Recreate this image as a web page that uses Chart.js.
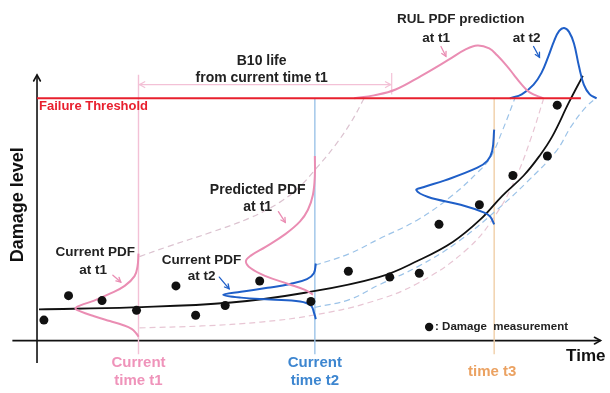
<!DOCTYPE html>
<html>
<head>
<meta charset="utf-8">
<script src="https://cdn.jsdelivr.net/npm/chart.js@4/dist/chart.umd.min.js"></script>
<style>
  html, body { margin: 0; padding: 0; background: #fff; }
  #wrap { width: 610px; height: 393px; position: relative; }
</style>
</head>
<body>
<div id="wrap"><canvas id="c"></canvas></div>
<script>
// All values are [time, damage] pairs, origin where the two axes cross.

// Damage measurements
const measurements = [
  [7,21],[32,46],[66,41],[101,31],[141,56],[161,26],[191,36],[226,61],[278,40],
  [316,71],[358,65],[388,69],[408,119],[449,139],[483,169],[518,189],[528,241]
];

// Fitted degradation trend
const trend = [
  [2,32],[97,34],[197,39],[272,49],[347,65],[387,82],[422,101],[450,124],
  [472,148],[494,169],[510,189],[523,209],[540,244],[554,271]
];

const failureThreshold = 248;
const timeT1 = 103, timeT2 = 282, timeT3 = 464;

// Prediction bounds made at t1
const boundT1Upper = [[104,86],[132,96],[177,111],[217,126],[247,142],[267,158],[284,177],[302,199],[319,224],[332,248]];
const boundT1Lower = [[104,13],[167,15],[227,19],[280,26],[337,39],[387,59],[437,94],[467,131],[487,169],[502,209],[514,247]];

// Prediction bounds made at t2
const boundT2Upper = [[282,77],[317,89],[347,104],[387,124],[422,149],[447,172],[460,187],[472,214],[485,248]];
const boundT2Lower = [[282,34],[317,42],[347,57],[387,76],[427,101],[467,134],[497,162],[527,194],[542,219],[557,239],[567,248]];

// Damage PDFs (drawn sideways against a time line)
const currentPdfT1 = [[103,89],[102,76],[99,66],[89,56],[74,48],[58,41],[44,36],[39,33],[44,30],[58,25],[74,20],[87,16],[96,12],[101,7],[103,4]];
const predictedPdfT1 = [[282,189],[282,169],[280,149],[275,134],[267,122],[252,109],[232,96],[217,87],[212,81],[217,74],[232,66],[255,58],[272,52],[280,47]];
const currentPdfT2 = [[283,79],[281,69],[274,63],[257,58],[234,54],[207,50],[189,47],[207,44],[237,42],[267,40],[278,36],[281,29],[283,22]];
const predictedPdfT2 = [[464,216],[462,194],[457,184],[447,177],[414,164],[392,157],[385,154],[397,147],[430,139],[454,131],[460,127],[464,119]];

// Remaining-useful-life PDFs on the failure threshold
const rulPdfT1 = [[322,248],[342,251],[364,257],[390,271],[417,287],[435,298],[447,302],[459,299],[467,292],[477,281],[484,272],[492,262],[500,254],[514,248]];
const rulPdfT2 = [[480,248],[492,252],[504,262],[512,274],[519,291],[525,307],[530,317],[535,320],[540,316],[545,304],[550,281],[555,262],[561,252],[568,248]];

const pts = a => a.map(([x, y]) => ({x, y}));
const seg = (a, b) => [{x: a[0], y: a[1]}, {x: b[0], y: b[1]}];

const PINK = '#ea8db3', BLUE = '#1f5fc8', RED = '#e8202e';
const PINK_LIGHT = '#f3c1d6', BLUE_LIGHT = '#9cc3e8', TAN = '#f0cfa8';

function line(data, color, width, order, dash) {
  return {
    data, showLine: true, borderColor: color, borderWidth: width,
    borderDash: dash || [], pointRadius: 0, tension: 0.4, order, fill: false
  };
}

const datasets = [
  // axes
  line(seg([0,-23],[0,272]), '#111', 1.6, 9),
  line(seg([-25,0],[572,0]), '#111', 1.6, 9),
  // time markers
  line(seg([timeT1,-14],[timeT1,272]), PINK_LIGHT, 1.4, 8),
  line(seg([timeT2,-14],[timeT2,failureThreshold]), BLUE_LIGHT, 1.4, 8),
  line(seg([timeT3,-14],[timeT3,failureThreshold]), TAN, 1.4, 8),
  // B10 life span
  line(seg([timeT1,262],[360,262]), PINK_LIGHT, 1.2, 6),
  line(seg([360,252],[360,274]), PINK_LIGHT, 1.2, 6),
  // bounds
  line(pts(boundT1Upper), '#dcc3d0', 1.2, 7, [6,4]),
  line(pts(boundT1Lower), '#e8c6d4', 1.2, 7, [6,4]),
  line(pts(boundT2Upper), BLUE_LIGHT, 1.2, 7, [6,4]),
  line(pts(boundT2Lower), BLUE_LIGHT, 1.2, 7, [6,4]),
  // trend
  line(pts(trend), '#111', 1.8, 5),
  // PDFs
  line(pts(currentPdfT1), PINK, 2, 4),
  line(pts(predictedPdfT1), PINK, 2, 4),
  line(pts(rulPdfT1), PINK, 2, 4),
  line(pts(currentPdfT2), BLUE, 2, 4),
  line(pts(predictedPdfT2), BLUE, 2, 4),
  line(pts(rulPdfT2), BLUE, 2, 4),
  // failure threshold
  line(seg([0,failureThreshold],[552,failureThreshold]), RED, 2, 3),
  // measurements
  { data: pts(measurements), showLine: false, pointRadius: 4.5, pointBackgroundColor: '#111',
    pointBorderColor: '#111', pointBorderWidth: 0, order: 1 }
];

const FONT = '"Liberation Sans", Arial, sans-serif';
const labels = [
  {text: 'Failure Threshold', at: [2,240], size: 13, color: RED, align: 'left'},
  {text: 'B10 life', at: [228,286], size: 14, color: '#222'},
  {text: 'from current time t1', at: [228,269], size: 14, color: '#222'},
  {text: 'RUL PDF prediction', at: [430,329], size: 13.5, color: '#222'},
  {text: 'at t1', at: [405,309], size: 13.5, color: '#222'},
  {text: 'at t2', at: [497,309], size: 13.5, color: '#222'},
  {text: 'Predicted PDF', at: [224,154], size: 14, color: '#222'},
  {text: 'at t1', at: [224,137], size: 14, color: '#222'},
  {text: 'Current PDF', at: [59,90], size: 13.5, color: '#222'},
  {text: 'at t1', at: [57,72], size: 13.5, color: '#222'},
  {text: 'Current PDF', at: [167,82], size: 13.5, color: '#222'},
  {text: 'at t2', at: [167,66], size: 13.5, color: '#222'},
  {text: ': Damage  measurement', at: [404,14], size: 11.5, color: '#222', align: 'left'},
  {text: 'Time', at: [537,-16], size: 17, color: '#111', align: 'left'},
  {text: 'Current', at: [timeT1,-23], size: 15, color: '#ef93ba'},
  {text: 'time t1', at: [timeT1,-41], size: 15, color: '#ef93ba'},
  {text: 'Current', at: [timeT2,-23], size: 15, color: '#3d86d0'},
  {text: 'time t2', at: [timeT2,-41], size: 15, color: '#3d86d0'},
  {text: 'time t3', at: [462,-32], size: 15, color: '#eba262'}
];
const pointers = [
  {from: [77,67], to: [85,60], color: PINK},
  {from: [185,65], to: [195,53], color: BLUE},
  {from: [245,132], to: [252,121], color: PINK},
  {from: [410,301], to: [415,291], color: PINK},
  {from: [504,301], to: [510,290], color: BLUE}
];

function head(ctx, x1, y1, x2, y2, len) {
  const a = Math.atan2(y2 - y1, x2 - x1);
  ctx.beginPath();
  ctx.moveTo(x2 - len * Math.cos(a - 0.5), y2 - len * Math.sin(a - 0.5));
  ctx.lineTo(x2, y2);
  ctx.lineTo(x2 - len * Math.cos(a + 0.5), y2 - len * Math.sin(a + 0.5));
  ctx.stroke();
}

const annotate = {
  id: 'annotate',
  beforeDraw(chart) {
    const ctx = chart.ctx;
    ctx.save();
    ctx.fillStyle = '#fff';
    ctx.fillRect(0, 0, chart.width, chart.height);
    ctx.restore();
  },
  afterDatasetsDraw(chart) {
    const ctx = chart.ctx, X = v => chart.scales.x.getPixelForValue(v), Y = v => chart.scales.y.getPixelForValue(v);
    ctx.save();
    ctx.lineCap = 'round';
    // axis arrow heads
    ctx.strokeStyle = '#111'; ctx.lineWidth = 1.6;
    head(ctx, X(0), Y(200), X(0), Y(272), 7);
    head(ctx, X(400), Y(0), X(572), Y(0), 7);
    // B10 span arrow heads
    ctx.strokeStyle = PINK_LIGHT; ctx.lineWidth = 1.2;
    head(ctx, X(200), Y(262), X(timeT1 + 1), Y(262), 6);
    head(ctx, X(200), Y(262), X(359), Y(262), 6);
    // label pointers
    ctx.lineWidth = 1.3;
    pointers.forEach(p => {
      ctx.strokeStyle = p.color;
      const x1 = X(p.from[0]), y1 = Y(p.from[1]), x2 = X(p.to[0]), y2 = Y(p.to[1]);
      ctx.beginPath(); ctx.moveTo(x1, y1); ctx.lineTo(x2, y2); ctx.stroke();
      head(ctx, x1, y1, x2, y2, 5);
    });
    // measurement key marker
    ctx.fillStyle = '#111';
    ctx.beginPath(); ctx.arc(X(398), Y(14), 4.2, 0, Math.PI * 2); ctx.fill();
    // text
    ctx.textBaseline = 'middle';
    labels.forEach(l => {
      ctx.font = 'bold ' + l.size + 'px ' + FONT;
      ctx.fillStyle = l.color;
      ctx.textAlign = l.align || 'center';
      ctx.fillText(l.text, X(l.at[0]), Y(l.at[1]));
    });
    // vertical axis title
    ctx.translate(X(-19), Y(139));
    ctx.rotate(-Math.PI / 2);
    ctx.font = 'bold 18px ' + FONT;
    ctx.fillStyle = '#111';
    ctx.textAlign = 'center';
    ctx.fillText('Damage level', 0, 0);
    ctx.restore();
  }
};

new Chart(document.getElementById('c'), {
  type: 'scatter',
  data: { datasets },
  options: {
    responsive: true,
    maintainAspectRatio: false,
    animation: false,
    layout: { padding: 0 },
    plugins: { legend: { display: false }, tooltip: { enabled: false } },
    scales: {
      x: { type: 'linear', min: -33, max: 577, display: false },
      y: { type: 'linear', min: -49, max: 344, display: false }
    }
  },
  plugins: [annotate]
});
</script>
</body>
</html>
